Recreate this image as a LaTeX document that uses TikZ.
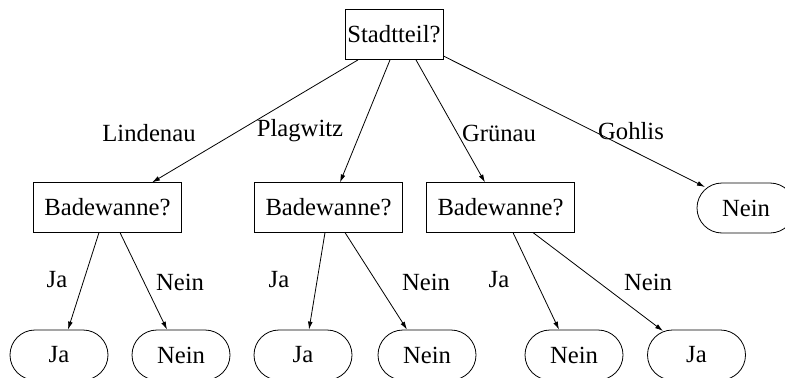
\documentclass[tikz,border=0pt]{standalone}
\usepackage{fontspec}
\setmainfont{Liberation Serif}
\usetikzlibrary{shapes.misc,arrows.meta,calc}
\begin{document}
\begin{tikzpicture}[x=0.75pt,y=-0.75pt,
  every node/.style={font=\fontsize{18.5}{21}\selectfont},
  qbox/.style={draw,rectangle,inner sep=0pt,line width=0.6pt},
  leaf/.style={draw,rounded rectangle,inner sep=0pt,minimum width=73.5pt,minimum height=37.5pt,line width=0.6pt},
  lbl/.style={inner sep=0pt},
  edge/.style={line width=0.6pt,-{Latex[length=6pt,width=3.6pt]}}]
\useasboundingbox (0,0) rectangle (785,378);
\node[qbox,minimum width=73.5pt,minimum height=37.5pt] (st) at (394,34.5) {Stadtteil?};
\node[qbox,minimum width=111.5pt,minimum height=37pt] (b1) at (107.5,207.5) {Badewanne?};
\node[qbox,minimum width=111.5pt,minimum height=37pt] (b2) at (328.5,207.5) {Badewanne?};
\node[qbox,minimum width=111pt,minimum height=37pt] (b3) at (500.5,207.5) {Badewanne?};
\node[leaf] (g) at (746,208) {Nein};
\node[leaf] (j1) at (59,355) {Ja};
\node[leaf] (n1) at (181,355) {Nein};
\node[leaf] (j2) at (303,355) {Ja};
\node[leaf] (n2) at (427,355) {Nein};
\node[leaf] (n3) at (574,355) {Nein};
\node[leaf] (j3) at (696.5,355) {Ja};
% edges from Stadtteil
\draw[edge] ($(st.south)+(-36,0)$) -- ($(b1.north)+(44.5,0)$);
\draw[edge] ($(st.south)+(-4,0)$) -- ($(b2.north)+(11.5,0)$);
\draw[edge] ($(st.south)+(22,0)$) -- ($(b3.north)+(-15.5,0)$);
\draw[edge] ($(st.east)+(0,21.5)$) -- ($(g.center)+(-41,-21)$);
% edges from Badewanne
\draw[edge] ($(b1.south)+(-8.5,0)$) -- ($(j1.north)+(9,0)$);
\draw[edge] ($(b1.south)+(12.5,0)$) -- ($(n1.north)+(-14,0)$);
\draw[edge] ($(b2.south)+(-3.5,0)$) -- ($(j2.north)+(6,0)$);
\draw[edge] ($(b2.south)+(16.5,0)$) -- ($(n2.north)+(-20,0)$);
\draw[edge] ($(b3.south)+(12.5,0)$) -- ($(n3.north)+(-15,0)$);
\draw[edge] ($(b3.south)+(32.5,0)$) -- ($(j3.center)+(-33.5,-24)$);
% labels
\node[lbl] (lLin) at (149,133) {Lindenau};
\node[lbl] (lPla) at (300,131) {Plagwitz};
\node[lbl] (lGru) at (499,133) {Grünau};
\node[lbl] (lGoh) at (631,131) {Gohlis};
\node[lbl] (lj1) at (57,280) {Ja};
\node[lbl] (ln1) at (180,282) {Nein};
\node[lbl] (lj2) at (279,280) {Ja};
\node[lbl] (ln2) at (426,282) {Nein};
\node[lbl] (lj3) at (499,280) {Ja};
\node[lbl] (ln3) at (648,282) {Nein};
\end{tikzpicture}
\end{document}
